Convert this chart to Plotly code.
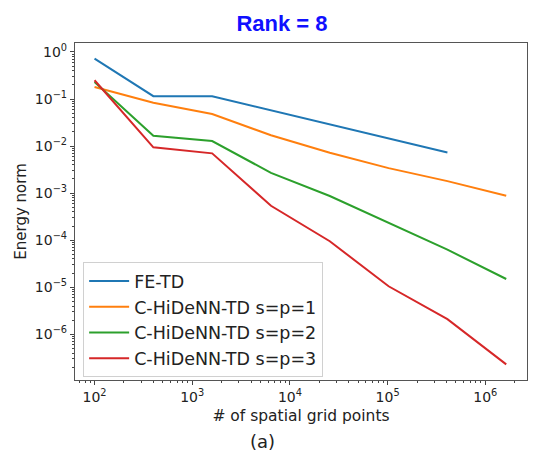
import plotly.graph_objects as go

# Spatial grid points (refined by a factor 4 each step)
grid_points = [100, 400, 1600, 6400, 25600, 102400, 409600, 1638400]

# Energy norm errors
fe_td = [0.72, 0.115, 0.114, 0.057, 0.029, 0.0146, 0.0073]
hidenn_p1 = [0.18, 0.083, 0.048, 0.017, 0.0072, 0.0034, 0.0018, 0.00088]
hidenn_p2 = [0.23, 0.0166, 0.0128, 0.0027, 0.00087, 0.00023, 6.3e-5, 1.5e-5]
hidenn_p3 = [0.25, 0.0094, 0.0070, 5.4e-4, 9.5e-5, 1.05e-5, 2.1e-6, 2.3e-7]

series_names = ["FE-TD", "C-HiDeNN-TD s=p=1", "C-HiDeNN-TD s=p=2", "C-HiDeNN-TD s=p=3"]
series_values = [fe_td, hidenn_p1, hidenn_p2, hidenn_p3]
colors = ["#1f77b4", "#ff7f0e", "#2ca02c", "#d62728"]

x_decades = [2, 3, 4, 5, 6]
y_decades = [0, -1, -2, -3, -4, -5, -6]

fig = go.Figure()

for name, vals, color in zip(series_names, series_values, colors):
    fig.add_trace(go.Scatter(
        x=grid_points[:len(vals)], y=vals, mode="lines", name=name,
        line=dict(color=color, width=2),
    ))

axis_font = dict(family="DejaVu Sans", size=14, color="#222")

# page body has an 8px margin, so the figure is drawn a bit smaller
W, H = 540, 460

fig.update_layout(
    width=W, height=H,
    margin=dict(l=67, r=21, t=35, b=88),
    paper_bgcolor="white", plot_bgcolor="white",
    font=dict(family="DejaVu Sans", size=14, color="#222"),
    title=dict(text="<b>Rank = 8</b>", x=274 / W, xanchor="center",
               y=1 - 15 / H, yanchor="middle",
               font=dict(family="Liberation Sans", size=22, color="#1010ff")),
    showlegend=True,
    legend=dict(x=0.018, y=0.35, xanchor="left", yanchor="top",
                bgcolor="white", bordercolor="#d0d0d0", borderwidth=1,
                font=dict(family="DejaVu Sans", size=17.5, color="#222"),
                tracegroupgap=0, itemwidth=40),
)

fig.update_xaxes(
    type="log", range=[1.8, 6.427], automargin=False,
    tickvals=[10 ** d for d in x_decades],
    ticktext=["10<sup>%d</sup>" % d for d in x_decades],
    ticks="outside", ticklen=4, tickcolor="#444", tickfont=axis_font,
    minor=dict(ticks="outside", ticklen=2, tickcolor="#444", dtick="D1"),
    showline=True, linecolor="#555", linewidth=1.2, mirror=True,
    showgrid=False, zeroline=False,
    title=dict(text="# of spatial grid points", standoff=6,
               font=dict(family="DejaVu Sans", size=15.5, color="#222")),
)

fig.update_yaxes(
    type="log", range=[-6.97, 0.19], automargin=False,
    tickvals=[10.0 ** d for d in y_decades],
    ticktext=["10<sup>%s</sup>" % (str(d).replace("-", "\u2212")) for d in y_decades],
    ticks="outside", ticklen=4, tickcolor="#444", tickfont=axis_font,
    minor=dict(ticks="outside", ticklen=2, tickcolor="#444", dtick="D1"),
    showline=True, linecolor="#555", linewidth=1.2, mirror=True,
    showgrid=False, zeroline=False,
    title=dict(text="Energy norm", standoff=4,
               font=dict(family="DejaVu Sans", size=15, color="#222")),
)

fig.add_annotation(
    text="(a)", xref="paper", yref="paper",
    x=(262 - 75) / 452, y=-(442 - 380) / 337,
    xanchor="center", yanchor="middle", showarrow=False,
    font=dict(family="DejaVu Sans", size=18, color="#222"),
)

fig.write_html("out.html")
